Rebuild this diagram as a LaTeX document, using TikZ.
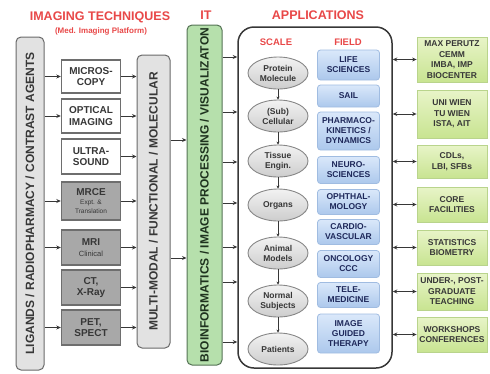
\documentclass[tikz,border=0pt]{standalone}
\usepackage{fontspec}
\setmainfont{Liberation Sans}
\usetikzlibrary{arrows.meta,shapes.geometric,shadings}

\definecolor{titlered}{RGB}{232,72,72}
\definecolor{ink}{RGB}{55,55,55}
\definecolor{barfill}{RGB}{226,226,226}
\definecolor{barline}{RGB}{105,105,105}
\definecolor{itfill}{RGB}{182,224,172}
\definecolor{itline}{RGB}{85,115,85}
\definecolor{itink}{RGB}{30,50,30}
\definecolor{techline}{RGB}{110,110,110}
\definecolor{techgray}{RGB}{168,168,168}
\definecolor{elltop}{RGB}{242,242,242}
\definecolor{ellbot}{RGB}{205,205,205}
\definecolor{elline}{RGB}{135,135,135}
\definecolor{fieldtop}{RGB}{218,232,250}
\definecolor{fieldbot}{RGB}{172,200,236}
\definecolor{fieldline}{RGB}{160,188,225}
\definecolor{fieldink}{RGB}{30,40,90}
\definecolor{greentop}{RGB}{232,244,200}
\definecolor{greenbot}{RGB}{200,228,145}
\definecolor{greenline}{RGB}{185,212,140}

\tikzset{
  bar/.style={rectangle, rounded corners=5pt, draw=barline, fill=barfill,
    line width=1pt, rotate=90, font=\fontsize{12}{12}\selectfont\bfseries,
    text=ink, inner sep=0pt},
  itbarstyle/.style={bar, draw=itline, fill=itfill, text=itink,
    font=\fontsize{12}{12}\selectfont\bfseries},
  techbox/.style={rectangle, draw=techline, line width=1.4pt, fill=white,
    minimum width=59pt, align=center,
    font=\fontsize{10}{11.5}\selectfont\bfseries, text=ink, inner sep=1pt},
  techdark/.style={techbox, fill=techgray},
  scalenode/.style={ellipse, draw=elline, line width=0.9pt,
    top color=elltop, bottom color=ellbot, minimum width=60pt,
    minimum height=32pt, inner sep=0pt, align=center,
    font=\fontsize{8.5}{10}\selectfont\bfseries, text=ink},
  fieldbox/.style={rectangle, rounded corners=3pt, draw=fieldline,
    line width=0.8pt, top color=fieldtop, bottom color=fieldbot,
    minimum width=62pt, align=center,
    font=\fontsize{8.5}{10}\selectfont\bfseries, text=fieldink, inner sep=1pt},
  partner/.style={rectangle, draw=greenline, line width=0.8pt,
    top color=greentop, bottom color=greenbot, minimum width=70pt,
    align=center, font=\fontsize{8.5}{10.5}\selectfont\bfseries,
    text=ink, inner sep=1pt},
  conn/.style={draw=ink, line width=0.8pt, -{Stealth[length=4.5pt,width=4pt]}},
  sconn/.style={draw=ink, line width=0.8pt, -{Stealth[length=3pt,width=3pt]}},
  dconn/.style={draw=ink, line width=0.9pt,
    {Stealth[length=4.5pt,width=4pt]}-{Stealth[length=4.5pt,width=4pt]}},
  head/.style={text=titlered, font=\fontsize{12.5}{13}\selectfont\bfseries},
  subhead/.style={text=titlered, font=\fontsize{9.5}{10}\selectfont\bfseries},
}

\begin{document}
\begin{tikzpicture}[x=1pt,y=-1pt]
\useasboundingbox (0,0) rectangle (490,373);

% headings
\node[head] (hImg) at (100,17) {IMAGING TECHNIQUES};
\node[text=titlered, font=\fontsize{8}{9}\selectfont\bfseries] (hSub) at (101,31) {(Med. Imaging Platform)};
\node[head] (hIT) at (206,15) {IT};
\node[head] (hApp) at (318,15) {APPLICATIONS};

% vertical bars
\node[bar, minimum width=333pt, minimum height=28pt] (lig) at (30,203.5)
  {LIGANDS / RADIOPHARMACY / CONTRAST AGENTS};
\node[bar, minimum width=293pt, minimum height=33pt] (multi) at (153.5,201.5)
  {MULTI-MODAL / FUNCTIONAL / MOLECULAR};
\node[itbarstyle, minimum width=340pt, minimum height=35pt] (itbar) at (204.5,195)
  {BIOINFORMATICS / IMAGE PROCESSING / VISUALIZATON};

% imaging techniques
\node[techbox, minimum height=33pt] (micro) at (91,76.5) {MICROS-\\COPY};
\node[techbox, minimum height=34pt] (optical) at (91,116) {OPTICAL\\IMAGING};
\node[techbox, minimum height=35pt] (ultra) at (91,156.5) {ULTRA-\\SOUND};
\node[techdark, minimum height=38pt] (mrce) at (91,201)
  {MRCE\\[-2pt]{\fontsize{6.5}{7.5}\selectfont\mdseries Expt. \&}\\[-3pt]{\fontsize{6.5}{7.5}\selectfont\mdseries Translation}};
\node[techdark, minimum height=35pt] (mri) at (91,247.5)
  {MRI\\{\fontsize{7.5}{8}\selectfont\mdseries Clinical}};
\node[techdark, minimum height=35pt] (ct) at (91,287.5) {CT,\\X-Ray};
\node[techdark, minimum height=35pt] (pet) at (91,327.5) {PET,\\SPECT};

% agents feed selected modalities
\foreach \t in {micro,optical,mrce,mri,pet}
  \draw[conn] (lig.south |- \t) -- (\t.west);
% every modality feeds the multi-modal bar
\foreach \t in {micro,optical,ultra,mrce,mri,ct,pet}
  \draw[conn] (\t.east) -- (multi.north |- \t);
% multi-modal into IT
\foreach \yy in {140,258}
  \draw[conn] (multi.south |- 0,\yy) -- (itbar.north |- 0,\yy);

% applications frame
\node[draw=ink, line width=1.5pt, rounded corners=16pt, minimum width=154pt,
  minimum height=341pt, inner sep=0pt] (apps) at (315,197.5) {};
\foreach \yy in {57,112,162,203,247,282,342}
  \draw[conn] (itbar.south |- 0,\yy) -- (apps.west |- 0,\yy);

\node[subhead] (hScale) at (276,42) {SCALE};
\node[subhead] (hField) at (348,42) {FIELD};

% scale column
\node[scalenode] (s1) at (278,73) {Protein\\Molecule};
\node[scalenode] (s2) at (278,116) {(Sub)\\Cellular};
\node[scalenode] (s3) at (278,161) {Tissue\\Engin.};
\node[scalenode] (s4) at (278,205) {Organs};
\node[scalenode] (s5) at (278,253) {Animal\\Models};
\node[scalenode] (s6) at (278,301) {Normal\\Subjects};
\node[scalenode] (s7) at (278,349) {Patients};
\foreach \a/\b in {s1/s2,s2/s3,s3/s4,s4/s5,s5/s6,s6/s7}
  \draw[sconn] (\a.south) -- (\b.north);

% field column
\node[fieldbox, minimum height=30pt] (f1) at (348.5,65) {LIFE\\SCIENCES};
\node[fieldbox, minimum height=22pt] (f2) at (348.5,96) {SAIL};
\node[fieldbox, minimum height=38pt] (f3) at (348.5,131) {PHARMACO-\\KINETICS /\\DYNAMICS};
\node[fieldbox, minimum height=27pt] (f4) at (348.5,170) {NEURO-\\SCIENCES};
\node[fieldbox, minimum height=25pt] (f5) at (348.5,202) {OPHTHAL-\\MOLOGY};
\node[fieldbox, minimum height=25pt] (f6) at (348.5,232) {CARDIO-\\VASCULAR};
\node[fieldbox, minimum height=27pt] (f7) at (348.5,264) {ONCOLOGY\\CCC};
\node[fieldbox, minimum height=25pt] (f8) at (348.5,295) {TELE-\\MEDICINE};
\node[fieldbox, minimum height=39pt] (f9) at (348.5,333.5) {IMAGE\\GUIDED\\THERAPY};

% partners and resources
\node[partner, minimum height=45pt] (g1) at (452,59.5) {MAX PERUTZ\\CEMM\\IMBA, IMP\\BIOCENTER};
\node[partner, minimum height=48pt] (g2) at (452,114) {UNI WIEN\\TU WIEN\\ISTA, AIT};
\node[partner, minimum height=33pt] (g3) at (452,161.5) {CDLs,\\LBI, SFBs};
\node[partner, minimum height=35pt] (g4) at (452,204.5) {CORE\\FACILITIES};
\node[partner, minimum height=35pt] (g5) at (452,247.5) {STATISTICS\\BIOMETRY};
\node[partner, minimum height=37pt] (g6) at (452,291.5) {UNDER-, POST-\\GRADUATE\\TEACHING};
\node[partner, minimum height=35pt] (g7) at (452,334.5) {WORKSHOPS\\CONFERENCES};
\foreach \g in {g1,g2,g3,g4,g5,g6,g7}
  \draw[dconn] (apps.east |- \g) -- (\g.west);

\end{tikzpicture}
\end{document}
